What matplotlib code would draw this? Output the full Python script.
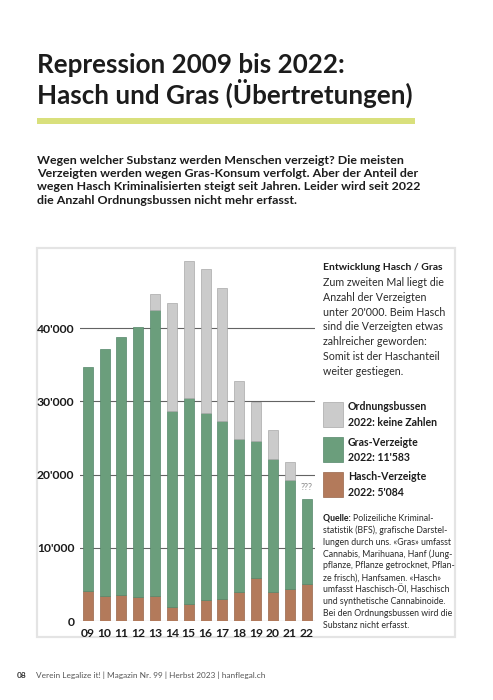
import matplotlib
matplotlib.use("Agg")
import matplotlib.pyplot as plt
from matplotlib.patches import Rectangle
import numpy as np

plt.rcParams['font.family'] = ['Lato', 'DejaVu Sans']

years = ['09', '10', '11', '12', '13', '14', '15', '16', '17', '18', '19', '20', '21', '22']
hasch = [4100, 3450, 3550, 3300, 3400, 1900, 2300, 2900, 3050, 3950, 5850, 3900, 4350, 5084]
gras = [30640, 33750, 35290, 36900, 39100, 26790, 28120, 25560, 24320, 20950, 18700, 18190, 14910, 11583]
bussen = [0, 0, 0, 0, 2200, 14810, 18780, 19640, 18080, 7900, 5320, 3960, 2500, 0]
yticks = [0, 10000, 20000, 30000, 40000]
ylabels = ["0", "10'000", "20'000", "30'000", "40'000"]

W, H = 493, 700
fig = plt.figure(figsize=(W / 100, H / 100), dpi=100)
renderer = fig.canvas.get_renderer()


def fx(x):
    return x / W


def fy(y):
    return 1 - y / H


def fit(s, width, weight='normal'):
    # font size that makes string s about `width` pixels wide
    t = fig.text(0, 0, s, fontsize=10, fontweight=weight)
    w = t.get_window_extent(renderer).width
    t.remove()
    return 10 * width / w


dark = '#1c1c1c'
c_gray = '#cbcbcb'
c_green = '#6b9e7c'
c_brown = '#b37a5b'

# title + underline
fs = fit("Hasch und Gras (Übertretungen)", 376, 'bold')
fig.text(fx(37), fy(73), "Repression 2009 bis 2022:", fontsize=fs, fontweight='bold',
         color=dark, va='baseline')
fig.text(fx(37), fy(104), "Hasch und Gras (Übertretungen)", fontsize=fs, fontweight='bold',
         color=dark, va='baseline')
fig.patches.append(Rectangle((fx(37), fy(124)), fx(415 - 37), 6 / H, transform=fig.transFigure,
                             facecolor='#d9e07c', edgecolor='none'))

intro = ["Wegen welcher Substanz werden Menschen verzeigt? Die meisten",
         "Verzeigten werden wegen Gras-Konsum verfolgt. Aber der Anteil der",
         "wegen Hasch Kriminalisierten steigt seit Jahren. Leider wird seit 2022",
         "die Anzahl Ordnungsbussen nicht mehr erfasst."]
fs = fit(intro[0], 367, 'bold')
for i, line in enumerate(intro):
    fig.text(fx(37), fy(160 + i * 13.4), line, fontsize=fs, fontweight='bold',
             color=dark, va='center')

# panel
fig.patches.append(Rectangle((fx(37), fy(637)), fx(455 - 37), (637 - 248) / H,
                             transform=fig.transFigure, facecolor='white',
                             edgecolor='#e4e4e4', linewidth=1.6, zorder=-1))

# chart axes
ytop = 50500
ax = fig.add_axes([fx(80), fy(621), fx(315 - 80), ytop * 7.32 / 1000 / H])
ax.set_zorder(2)
x = np.arange(len(years))
hasch_a = np.array(hasch)
gras_a = np.array(gras)
bus_a = np.array(bussen)
ax.bar(x, hasch_a, width=0.6, color=c_brown, edgecolor='#98654a', linewidth=0.5, zorder=3)
ax.bar(x, gras_a, width=0.6, bottom=hasch_a, color=c_green, edgecolor='#55876a',
       linewidth=0.5, zorder=3)
mask = bus_a > 0
ax.bar(x[mask], bus_a[mask], width=0.6, bottom=(hasch_a + gras_a)[mask], color=c_gray,
       edgecolor='#a9a9a9', linewidth=0.5, zorder=3)
for t in yticks:
    ax.axhline(t, color='#636363', linewidth=0.8, zorder=1)
ax.text(x[-1], hasch_a[-1] + gras_a[-1] + 1600, "???", ha='center', va='center',
        fontsize=6.5, color='#8a8a8a')
ax.set_xlim(-0.46, 13.5)
ax.set_ylim(0, ytop)
tfs = fit("40'000", 38, 'bold')
ax.set_yticks(yticks)
ax.set_yticklabels(ylabels, fontsize=tfs, fontweight='bold', color=dark)
ax.set_xticks(x)
ax.set_xticklabels(years, fontsize=tfs, fontweight='bold', color=dark)
ax.tick_params(axis='both', length=0)
ax.tick_params(axis='y', pad=4)
ax.tick_params(axis='x', pad=5)
for s in ax.spines.values():
    s.set_visible(False)
ax.patch.set_alpha(0)

# annotation
fs = fit("Entwicklung Hasch / Gras", 120, 'bold')
fig.text(fx(323), fy(268), "Entwicklung Hasch / Gras", fontsize=fs, fontweight='bold',
         color=dark, va='center')
note = ["Zum zweiten Mal liegt die", "Anzahl der Verzeigten", "unter 20'000. Beim Hasch",
        "sind die Verzeigten etwas", "zahlreicher geworden:", "Somit ist der Haschanteil",
        "weiter gestiegen."]
fs = fit(note[0], 120)
for i, line in enumerate(note):
    fig.text(fx(323), fy(282.5 + i * 14.8), line, fontsize=fs, color='#2a2a2a', va='center')

# legend
leg = [(c_gray, '#a9a9a9', "Ordnungsbussen", "2022: keine Zahlen", 402),
       (c_green, '#55876a', "Gras-Verzeigte", "2022: 11'583", 437),
       (c_brown, '#98654a', "Hasch-Verzeigte", "2022: 5'084", 472)]
fs = fit("2022: keine Zahlen", 90, 'bold')
for fc, ec, l1, l2, y0 in leg:
    fig.patches.append(Rectangle((fx(323), fy(y0 + 25)), fx(20), 25 / H,
                                 transform=fig.transFigure, facecolor=fc, edgecolor=ec,
                                 linewidth=0.5))
    fig.text(fx(348), fy(y0 + 5), l1, fontsize=fs, fontweight='bold', color=dark, va='center')
    fig.text(fx(348), fy(y0 + 20.5), l2, fontsize=fs, fontweight='bold', color=dark, va='center')

# source
src = ["Polizeiliche Kriminal-", "statistik (BFS), grafische Darstel-",
       "lungen durch uns. «Gras» umfasst", "Cannabis, Marihuana, Hanf (Jung-",
       "pflanze, Pflanze getrocknet, Pflan-", "ze frisch), Hanfsamen. «Hasch»",
       "umfasst Haschisch-Öl, Haschisch", "und synthetische Cannabinoide.",
       "Bei den Ordnungsbussen wird die", "Substanz nicht erfasst."]
fs = fit(src[1], 124)
t = fig.text(fx(323), fy(518.5), "Quelle: ", fontsize=fs, fontweight='bold', color=dark,
             va='center')
bb = t.get_window_extent(renderer)
fig.text(bb.x1 / W, fy(518.5), src[0], fontsize=fs, color='#2a2a2a', va='center')
for i, line in enumerate(src[1:]):
    fig.text(fx(323), fy(518.5 + (i + 1) * 11.85), line, fontsize=fs, color='#2a2a2a',
             va='center')

# footer
foot = "Verein Legalize it! | Magazin Nr. 99 | Herbst 2023 | hanflegal.ch"
fs = fit(foot, 228)
fig.text(fx(16.5), fy(675), "08", fontsize=fs, fontweight='bold', color='#333333', va='center')
fig.text(fx(36.5), fy(675), foot, fontsize=fs, color='#555555', va='center')

fig.savefig("out.png", dpi=100)
